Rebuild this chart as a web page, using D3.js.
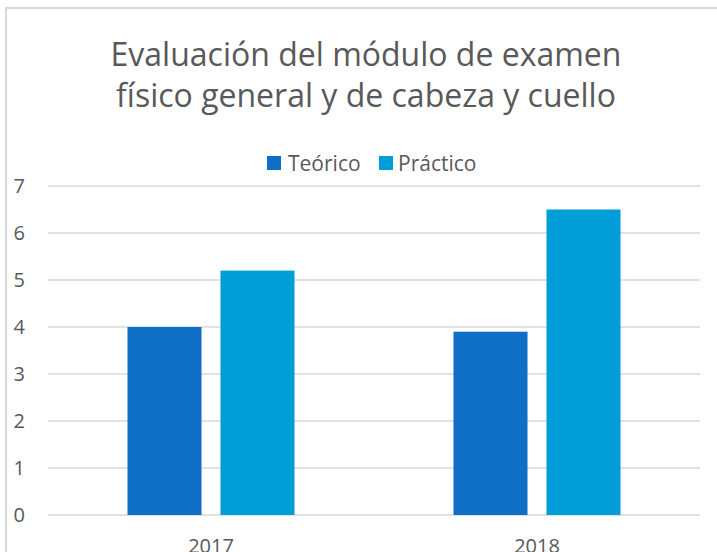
<!DOCTYPE html>
<html>
<head>
<meta charset="utf-8">
<script src="https://cdn.jsdelivr.net/npm/d3@7"></script>
<style>
  html, body { margin: 0; padding: 0; background: #fff; }
  svg { display: block; }
  text { font-family: "Open Sans", sans-serif; fill: #595959; }
</style>
</head>
<body>
<svg id="chart" width="717" height="552"></svg>
<script>
const categories = ["2017", "2018"];
const seriesNames = ["Teórico", "Práctico"];
const teorico = [4.0, 3.9];
const practico = [5.2, 6.5];
const yTicks = [0, 1, 2, 3, 4, 5, 6, 7];
const titleLines = ["Evaluación del módulo de examen", "físico general y de cabeza y cuello"];
const colors = ["#0F6FC6", "#009DD9"];

const svg = d3.select("#chart");
const W = 717, H = 552;

// chart area border
svg.append("rect")
  .attr("x", 6).attr("y", 8)
  .attr("width", W + 20).attr("height", H + 20)
  .attr("fill", "none").attr("stroke", "#d9d9d9").attr("stroke-width", 2);

// title
svg.append("text")
  .attr("text-anchor", "middle")
  .attr("font-size", 32)
  .selectAll("tspan").data(titleLines).join("tspan")
  .attr("x", 366)
  .attr("y", (d, i) => 66 + i * 41)
  .text(d => d);

// scales
const plotLeft = 48, plotRight = 700;
const x0 = d3.scaleBand().domain(categories).range([plotLeft, plotRight])
  .paddingInner(0.4877).paddingOuter(0.4877 / 2);
const x1 = d3.scaleBand().domain(seriesNames).range([0, x0.bandwidth()])
  .paddingInner(0.204).paddingOuter(0);
const y = d3.scaleLinear().domain([0, 7]).range([515, 186]);
const color = d3.scaleOrdinal().domain(seriesNames).range(colors);

// gridlines
svg.append("g").selectAll("line").data(yTicks).join("line")
  .attr("x1", plotLeft).attr("x2", plotRight)
  .attr("y1", d => y(d)).attr("y2", d => y(d))
  .attr("stroke", "#d9d9d9").attr("stroke-width", 1.5);

// y axis labels
const yAxis = d3.axisLeft(y).tickValues(yTicks).tickSize(0).tickPadding(0).tickFormat(d3.format("d"));
const yg = svg.append("g").attr("transform", "translate(25,0)").call(yAxis);
yg.select(".domain").remove();
yg.selectAll("text").attr("font-size", 20).attr("fill", "#595959")
  .style("font-family", '"Open Sans", sans-serif');

// bars
const rows = categories.map((c, i) => ({ cat: c, vals: [teorico[i], practico[i]] }));
const groups = svg.append("g").selectAll("g").data(rows).join("g")
  .attr("transform", d => `translate(${x0(d.cat)},0)`);
groups.selectAll("rect").data(d => d.vals.map((v, j) => ({ s: seriesNames[j], v })))
  .join("rect")
  .attr("x", d => x1(d.s))
  .attr("width", x1.bandwidth())
  .attr("y", d => y(d.v))
  .attr("height", d => y(0) - y(d.v))
  .attr("fill", d => color(d.s));

// x axis labels
const xAxis = d3.axisBottom(x0).tickSize(0).tickPadding(0);
const xg = svg.append("g").attr("transform", "translate(0,539)").call(xAxis);
xg.select(".domain").remove();
xg.selectAll("text").attr("font-size", 20).attr("fill", "#595959")
  .attr("dy", "0.71em")
  .style("font-family", '"Open Sans", sans-serif');

// legend
const legendItems = [
  { name: seriesNames[0], sx: 267, tx: 288 },
  { name: seriesNames[1], sx: 379, tx: 398 }
];
const lg = svg.append("g");
lg.selectAll("rect").data(legendItems).join("rect")
  .attr("x", d => d.sx).attr("y", 156).attr("width", 14).attr("height", 14)
  .attr("fill", d => color(d.name));
lg.selectAll("text").data(legendItems).join("text")
  .attr("x", d => d.tx).attr("y", 171)
  .attr("font-size", 21)
  .text(d => d.name);
</script>
</body>
</html>
